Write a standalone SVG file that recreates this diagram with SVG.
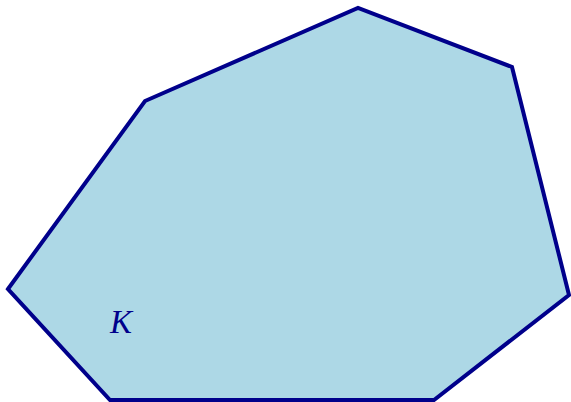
<svg xmlns="http://www.w3.org/2000/svg" width="571" height="402" viewBox="0 0 571 402">
<style>
.poly{fill:#ADD8E6;stroke:#00008B;stroke-width:4;stroke-linejoin:miter}
.lbl{font-family:"Liberation Serif",serif;font-style:italic;font-size:33px;fill:#00008B}
</style>
<g id="K">
<polygon class="poly" points="8,289 145,101 358,8 512,67 569,295 434,400 110,400"/>
<text class="lbl" x="110" y="333">K</text>
</g>
<g id="connectors"></g>
</svg>
